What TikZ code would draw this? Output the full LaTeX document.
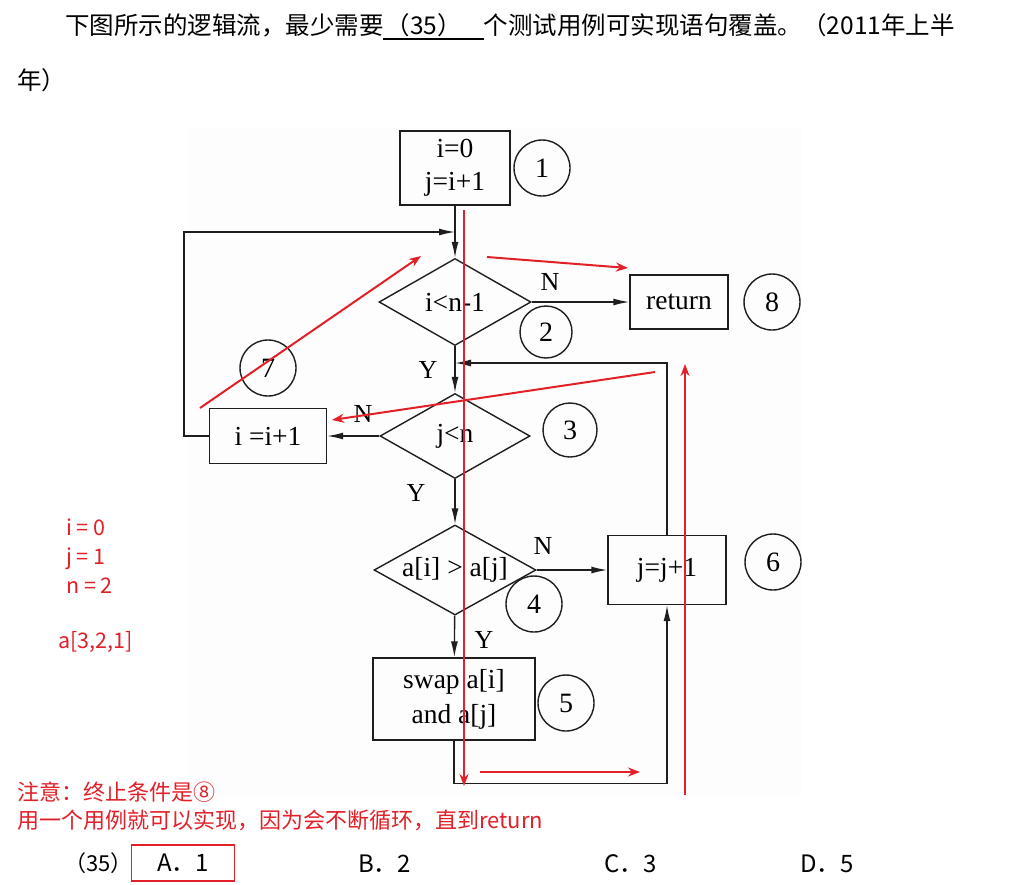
\documentclass[tikz,border=0pt]{standalone}
\usepackage{fontspec}
\setmainfont{Liberation Serif}
\newfontfamily\cjk{Noto Sans CJK SC}
\usetikzlibrary{arrows.meta,shapes.geometric,positioning}
\definecolor{annot}{RGB}{226,32,40}
\definecolor{ink}{RGB}{30,30,30}

\tikzset{
  block/.style={draw=ink, line width=1.4pt, inner sep=0pt, align=center,
    font=\fontsize{27.5}{33}\selectfont},
  decision/.style={diamond, draw=ink, line width=1.4pt, inner sep=0pt},
  dlabel/.style={font=\fontsize{27.5}{30}\selectfont, inner sep=0pt},
  tag/.style={circle, draw=ink, line width=1.4pt, minimum size=56pt,
    inner sep=0pt, font=\fontsize{28}{30}\selectfont},
  yn/.style={font=\fontsize{26}{28}\selectfont, inner sep=0pt},
  flow/.style={draw=ink, line width=1.4pt, -{Latex[length=16pt,width=7pt]}},
  trace/.style={draw=annot, line width=2pt, -{Stealth[length=12pt,width=9pt]}},
  note/.style={text=annot, font=\cjk\fontsize{21.5}{24}\selectfont,
    inner sep=0pt, anchor=base west},
  cjktext/.style={font=\cjk\fontsize{24.5}{28}\selectfont, inner sep=0pt,
    anchor=base west},
}

\begin{document}
\begin{tikzpicture}[x=1pt,y=-1pt]
\useasboundingbox (0,0) rectangle (1011,884);
\fill[white] (0,0) rectangle (1011,884);

% Enonce
\node[cjktext] (question) at (65,34)
{下图所示的逻辑流，最少需要\hspace{2pt}（35）\hspace{22pt}个测试用例可实现语句覆盖。（2011年上半};
\coordinate (blankstart) at (383,39);
\coordinate (blankend) at (484,39);
\draw[line width=2.2pt] (blankstart) -- (blankend);
\node[cjktext] (questiontail) at (17,89) {年）};

% Organigramme
\fill[black!0.8] (188,128) rectangle (802,796);

\node[block, minimum width=110pt, minimum height=74pt] (init) at (455,168) {i=0\\j=i+1};
\node[decision, minimum width=152pt, minimum height=87pt,
  label={[dlabel]center:i<n-1}] (testi) at (455,302) {};
\node[block, minimum width=98pt, minimum height=54pt] (ret) at (679,302) {return};
\node[decision, minimum width=150pt, minimum height=85pt,
  label={[dlabel]center:j<n}] (testj) at (455,436) {};
\node[block, minimum width=117pt, minimum height=55pt] (inci) at (268,436) {i =i+1};
\node[decision, minimum width=162pt, minimum height=90pt,
  label={[dlabel]center:{a[i] > a[j]}}] (cmp) at (455,570) {};
\node[block, minimum width=118pt, minimum height=69pt] (incj) at (667,570) {j=j+1};
\node[block, minimum width=162pt, minimum height=82pt,
  font=\fontsize{27.5}{35}\selectfont] (swap) at (454,699) {swap a[i]\\and a[j]};

% Numeros
\node[tag] (tag1) at (542,168) {1};
\node[tag, minimum size=52pt] (tag2) at (546,332) {2};
\node[tag, minimum size=54pt] (tag3) at (570,430) {3};
\node[tag] (tag4) at (534,604) {4};
\node[tag] (tag5) at (566,703) {5};
\node[tag] (tag6) at (773,562) {6};
\node[tag] (tag7) at (268,368) {7};
\node[tag] (tag8) at (772,302) {8};

% Y / N
\node[yn] (n2) at (550,282) {N};
\node[yn] (y2) at (428,370) {Y};
\node[yn] (n3) at (363,414) {N};
\node[yn] (y3) at (416,493) {Y};
\node[yn] (n4) at (543,546) {N};
\node[yn] (y4) at (484,640) {Y};

\coordinate (join1) at (455,232);
\coordinate (join2) at (455,363);

\draw[flow] (init) -- (testi);
\draw[flow]
(inci.west)
-- ++(-25,0)
|- (join1);
\draw[flow] (testi) -- (ret);
\draw[flow] (testi) -- (testj);
\draw[flow] (testj) -- (inci);
\draw[flow] (testj) -- (cmp);
\draw[flow] (cmp) -- (incj);
\draw[flow] (cmp) -- (swap);
\draw[flow]
(swap.south)
-- ++(0,43)
-| (incj.south);
\draw[flow]
(incj.north)
|- (join2);

% Trace rouge
\coordinate (ra) at (464,210);
\coordinate (rb) at (464,786);
\coordinate (rc) at (487,257);
\coordinate (rd) at (628,268);
\coordinate (re) at (200,408);
\coordinate (rf) at (421,256);
\coordinate (rg) at (655,372);
\coordinate (rh) at (332,420);
\coordinate (ri) at (480,772);
\coordinate (rj) at (640,772);
\coordinate (rk) at (685,795);
\coordinate (rl) at (685,364);

\draw[trace] (ra) -- (rb);
\draw[trace] (rc) -- (rd);
\draw[trace] (re) -- (rf);
\draw[trace] (rg) -- (rh);
\draw[trace] (ri) -- (rj);
\draw[trace] (rk) -- (rl);

% Notes
\node[note] (vari) at (66,535) {i = 0};
\node[note] (varj) at (66,564) {j = 1};
\node[note] (varn) at (66,593) {n = 2};
\node[note] (vara) at (58,648) {a[3,2,1]};
\node[note, font=\cjk\fontsize{22}{24}\selectfont] (stop) at (17,800) {注意：终止条件是⑧};
\node[note, font=\cjk\fontsize{22}{24}\selectfont] (reason) at (17,828)
{用一个用例就可以实现，因为会不断循环，直到return};

% Choix
\node[cjktext, font=\cjk\fontsize{22}{24}\selectfont] (qnum) at (64,871) {（35）};
\node[draw=annot, line width=1.5pt, minimum width=103pt, minimum height=36pt,
  font=\cjk\fontsize{24}{26}\selectfont] (optA) at (183,863) {A．1};
\node[cjktext, font=\cjk\fontsize{24}{26}\selectfont] (optB) at (358,872) {B．2};
\node[cjktext, font=\cjk\fontsize{24}{26}\selectfont] (optC) at (604,872) {C．3};
\node[cjktext, font=\cjk\fontsize{24}{26}\selectfont] (optD) at (800,872) {D．5};

\end{tikzpicture}
\end{document}
